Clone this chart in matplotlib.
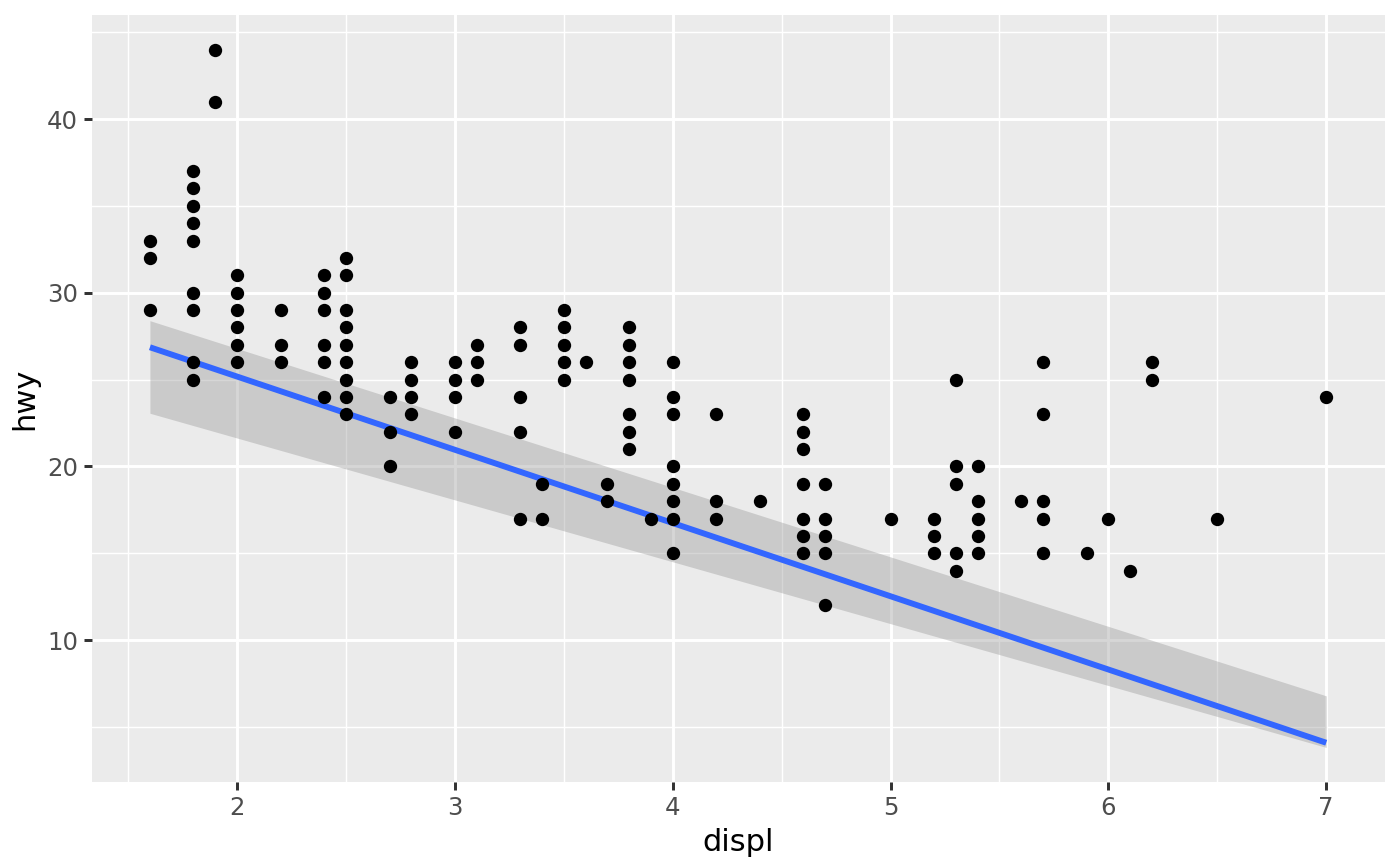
import numpy as np
import matplotlib
matplotlib.use('Agg')
import matplotlib.pyplot as plt
from matplotlib.ticker import MultipleLocator

### Points (unique displ/hwy pairs)
displ = [1.6, 1.6, 1.6,
         1.8, 1.8, 1.8, 1.8, 1.8, 1.8, 1.8, 1.8, 1.8,
         1.9, 1.9,
         2.0, 2.0, 2.0, 2.0, 2.0, 2.0,
         2.2, 2.2, 2.2,
         2.4, 2.4, 2.4, 2.4, 2.4, 2.4,
         2.5, 2.5, 2.5, 2.5, 2.5, 2.5, 2.5, 2.5, 2.5,
         2.7, 2.7, 2.7,
         2.8, 2.8, 2.8, 2.8,
         3.0, 3.0, 3.0, 3.0,
         3.1, 3.1, 3.1,
         3.3, 3.3, 3.3, 3.3, 3.3,
         3.4, 3.4,
         3.5, 3.5, 3.5, 3.5, 3.5,
         3.6,
         3.7, 3.7,
         3.8, 3.8, 3.8, 3.8, 3.8, 3.8, 3.8,
         3.9,
         4.0, 4.0, 4.0, 4.0, 4.0, 4.0, 4.0, 4.0,
         4.2, 4.2, 4.2,
         4.4,
         4.6, 4.6, 4.6, 4.6, 4.6, 4.6, 4.6,
         4.7, 4.7, 4.7, 4.7, 4.7,
         5.0,
         5.2, 5.2, 5.2,
         5.3, 5.3, 5.3, 5.3, 5.3,
         5.4, 5.4, 5.4, 5.4, 5.4,
         5.6,
         5.7, 5.7, 5.7, 5.7, 5.7,
         5.9, 6.0, 6.1,
         6.2, 6.2,
         6.5, 7.0]
hwy = [33, 32, 29,
       37, 36, 35, 34, 33, 30, 29, 26, 25,
       44, 41,
       31, 30, 29, 28, 27, 26,
       29, 27, 26,
       31, 30, 29, 27, 26, 24,
       32, 31, 29, 28, 27, 26, 25, 24, 23,
       24, 22, 20,
       26, 25, 24, 23,
       26, 25, 24, 22,
       27, 26, 25,
       28, 27, 24, 22, 17,
       19, 17,
       29, 28, 27, 26, 25,
       26,
       19, 18,
       28, 27, 26, 25, 23, 22, 21,
       17,
       26, 24, 23, 20, 19, 18, 17, 15,
       23, 18, 17,
       18,
       23, 22, 21, 19, 17, 16, 15,
       19, 17, 16, 15, 12,
       17,
       17, 16, 15,
       25, 20, 19, 15, 14,
       20, 18, 17, 16, 15,
       18,
       26, 23, 18, 17, 15,
       15, 17, 14,
       26, 25,
       17, 24]

### Smooth line and band
fit_x = [1.6, 7.0]
fit_y = [26.86, 4.09]
fit_lo = [23.06, 3.82]
fit_hi = [28.39, 6.79]

### Plot
plt.rc('font', family='DejaVu Sans')
fig = plt.figure(figsize=(7, 4.33), dpi=200)
ax = fig.add_axes([0.0657, 0.097, 0.9236, 0.8857])
ax.set_facecolor('#EBEBEB')

ax.fill_between(fit_x, fit_lo, fit_hi, color='#999999', alpha=0.4,
                linewidth=0, zorder=2)
ax.plot(fit_x, fit_y, color='#3366FF', linewidth=2.13,
        solid_capstyle='butt', zorder=3)
ax.scatter(displ, hwy, s=23, color='black', linewidths=0, zorder=4)

ax.set_xlim(1.334, 7.27)
ax.set_ylim(1.83, 45.99)
ax.xaxis.set_major_locator(MultipleLocator(1))
ax.xaxis.set_minor_locator(MultipleLocator(0.5))
ax.yaxis.set_major_locator(MultipleLocator(10))
ax.yaxis.set_minor_locator(MultipleLocator(5))

ax.grid(which='major', color='white', linewidth=1.07, zorder=1)
ax.grid(which='minor', color='white', linewidth=0.53, zorder=1)
ax.set_axisbelow(True)
for s in ax.spines.values():
    s.set_visible(False)

ax.tick_params(which='major', length=2.75, width=1.07, color='#333333',
               labelsize=8.8, labelcolor='#4D4D4D', pad=2.2)
ax.tick_params(which='minor', length=0)

ax.set_xlabel('displ', fontsize=11, labelpad=3)
ax.set_ylabel('hwy', fontsize=11, labelpad=3)

plt.savefig('out.png', dpi=200)
